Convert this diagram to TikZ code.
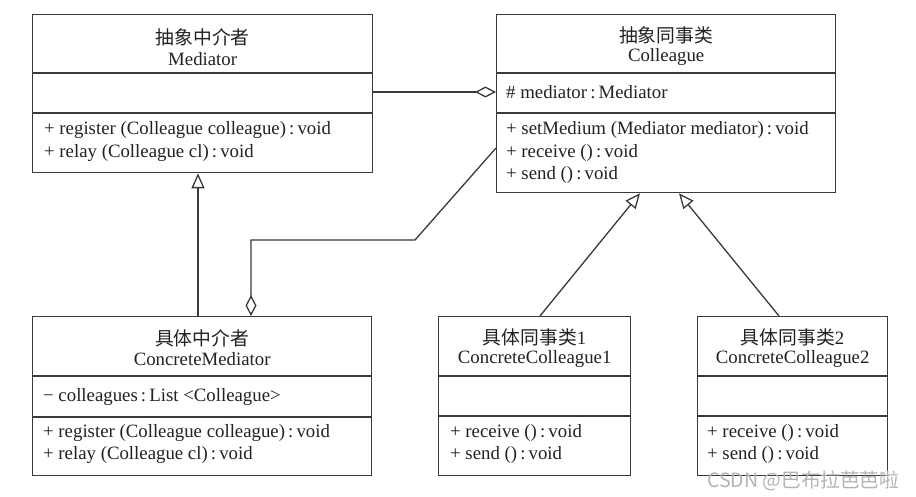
\documentclass[tikz,border=0pt]{standalone}
\usepackage{fontspec}
\setmainfont{Liberation Serif}
\newfontfamily\cjk{Noto Sans CJK SC}
\usetikzlibrary{arrows.meta,calc}
\definecolor{linec}{HTML}{3A3A3A}
\definecolor{txtc}{HTML}{222222}
\definecolor{wmc}{HTML}{B4B4B4}
\begin{document}
\begin{tikzpicture}[x=1pt,y=-1pt,
  cls/.style={draw=linec, line width=1.3pt, rectangle, inner sep=0pt, anchor=north west},
  div/.style={draw=linec, line width=1.3pt},
  ttl/.style={font=\fontsize{18.8}{20}\selectfont, text=txtc, inner sep=0pt},
  mem/.style={font=\fontsize{18.8}{20}\selectfont, text=txtc, inner sep=0pt, anchor=west},
  conn/.style={draw=linec, line width=1.3pt},
  inh/.style={conn, -{Triangle[open, length=15pt, width=13pt, fill=white]}},
  agg/.style={conn, -{Diamond[open, length=21pt, width=11pt, fill=white]}},
]
\useasboundingbox[fill=white] (0,0) rectangle (916,497);

% classes
\node[cls, minimum width=340pt, minimum height=158pt] (med) at (32,14) {};
\node[cls, minimum width=339pt, minimum height=178pt] (col) at (496,14) {};
\node[cls, minimum width=339pt, minimum height=159pt] (cmed) at (32,316) {};
\node[cls, minimum width=192pt, minimum height=159pt] (cc1) at (438,316) {};
\node[cls, minimum width=190pt, minimum height=159pt] (cc2) at (697,316) {};

% dividers
\foreach \n/\a/\b in {med/73/113, col/73/113, cmed/376/417, cc1/376/416, cc2/376/416}{
  \draw[div] (\n.west |- 0,\a) -- (\n.east |- 0,\a);
  \draw[div] (\n.west |- 0,\b) -- (\n.east |- 0,\b);
}

% Mediator
\node[ttl] (medt1) at (med.north |- 0,37) {\cjk 抽象中介者};
\node[ttl] (medt2) at (med.north |- 0,59) {Mediator};
\node[mem] (medm1) at ($(med.west |- 0,130)+(12,0)$) {+ register (Colleague colleague)\,:\,void};
\node[mem] (medm2) at ($(med.west |- 0,153)+(12,0)$) {+ relay (Colleague cl)\,:\,void};

% Colleague
\node[ttl] (colt1) at (col.north |- 0,35) {\cjk 抽象同事类};
\node[ttl] (colt2) at (col.north |- 0,57) {Colleague};
\node[mem] (cola1) at ($(col.west |- 0,92)+(10,0)$) {\# mediator\,:\,Mediator};
\node[mem] (colm1) at ($(col.west |- 0,130)+(10,0)$) {+ setMedium (Mediator mediator)\,:\,void};
\node[mem] (colm2) at ($(col.west |- 0,153)+(10,0)$) {+ receive ()\,:\,void};
\node[mem] (colm3) at ($(col.west |- 0,175)+(10,0)$) {+ send ()\,:\,void};

% ConcreteMediator
\node[ttl] (cmedt1) at (cmed.north |- 0,338) {\cjk 具体中介者};
\node[ttl] (cmedt2) at (cmed.north |- 0,359) {ConcreteMediator};
\node[mem] (cmeda1) at ($(cmed.west |- 0,397)+(11,0)$) {\textminus{} colleagues\,:\,List <Colleague>};
\node[mem] (cmedm1) at ($(cmed.west |- 0,433)+(11,0)$) {+ register (Colleague colleague)\,:\,void};
\node[mem] (cmedm2) at ($(cmed.west |- 0,455)+(11,0)$) {+ relay (Colleague cl)\,:\,void};

% ConcreteColleague1
\node[ttl] (cc1t1) at (cc1.north |- 0,337) {{\cjk 具体同事类}1};
\node[ttl] (cc1t2) at (cc1.north |- 0,359) {ConcreteColleague1};
\node[mem] (cc1m1) at ($(cc1.west |- 0,433)+(12,0)$) {+ receive ()\,:\,void};
\node[mem] (cc1m2) at ($(cc1.west |- 0,455)+(12,0)$) {+ send ()\,:\,void};

% ConcreteColleague2
\node[ttl] (cc2t1) at (cc2.north |- 0,337) {{\cjk 具体同事类}2};
\node[ttl] (cc2t2) at (cc2.north |- 0,359) {ConcreteColleague2};
\node[mem] (cc2m1) at ($(cc2.west |- 0,433)+(10,0)$) {+ receive ()\,:\,void};
\node[mem] (cc2m2) at ($(cc2.west |- 0,455)+(10,0)$) {+ send ()\,:\,void};

% connectors
\coordinate (bend1) at (415,240);
\coordinate (bend2) at (251,240);
\draw[agg] (med.east |- 0,92) -- (col.west |- 0,92);
\draw[inh] (cmed.north -| 198,0) -- (med.south -| 198,0);
\draw[agg] (col.west |- 0,148) -- (bend1) -- (bend2) -- (cmed.north -| bend2);
\draw[inh] (cc1.north -| 540,0) -- (col.south -| 640,0);
\draw[inh] (cc2.north -| 779,0) -- (col.south -| 679,0);

% watermark
\node[font=\cjk\fontsize{19.6}{20}\selectfont, text=wmc, anchor=west, inner sep=0pt] (wm) at (707,481) {CSDN @巴布拉芭芭啦};
\end{tikzpicture}
\end{document}
